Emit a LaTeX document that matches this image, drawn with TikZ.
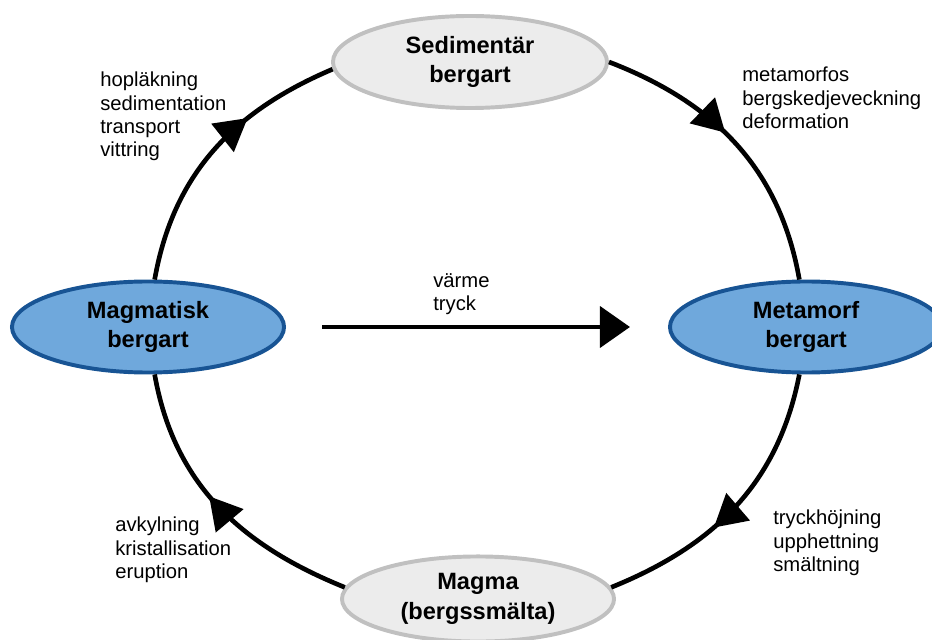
\documentclass[tikz,border=0pt]{standalone}
\usepackage{fontspec}
\setmainfont{Liberation Sans}
\usepackage{xcolor}
\usepackage{tikz}
\usetikzlibrary{shapes, arrows.meta, positioning, decorations.markings}
\definecolor{rockblue}{RGB}{111,168,220}
\definecolor{rockedge}{RGB}{24,84,148}
\definecolor{sedgray}{RGB}{236,236,236}
\definecolor{sededge}{RGB}{192,192,192}

\begin{document}
\begin{tikzpicture}[x=0.025cm, y=0.025cm,
  rock/.style={ellipse, draw=rockedge, fill=rockblue, line width=2.8pt, minimum width=6.8cm, minimum height=2.275cm, align=center, font=\fontsize{16.8}{21}\selectfont\bfseries},
  melt/.style={ellipse, draw=sededge, fill=sedgray, line width=2.8pt, align=center, font=\fontsize{16.8}{21}\selectfont\bfseries},
  proc/.style={anchor=north west, inner sep=0pt, align=left, font=\fontsize{14.4}{16.6}\selectfont},
  loopline/.style={line width=3.3pt},
  midarrow/.style={postaction={decorate}, decoration={markings, mark=at position #1 with {\arrow{Triangle[length=0.8cm, width=0.88cm]}}}}
]
\clip (0,0) rectangle (932,639);

% Rock types
\node[rock] (magm) at (148,312) {Magmatisk\\bergart};
\node[rock] (meta) at (806,312) {Metamorf\\bergart};
\node[melt, minimum width=6.85cm, minimum height=2.3cm] (sed) at (470,577) {Sedimentär\\bergart};
\node[melt, minimum width=6.8cm, minimum height=2.05cm] (magma) at (478,40) {Magma\\(bergssmälta)};

% Cycle
\draw[loopline, midarrow=0.66] (magm.82) to[out=80, in=203] (sed.183);
\draw[loopline, midarrow=0.45] (sed.east) to[out=-21, in=100] (meta.98);
\draw[loopline, midarrow=0.6] (meta.262) to[out=259, in=22] (magma.5);
\draw[loopline, midarrow=0.55] (magma.175) to[out=158, in=280] (magm.278);
\draw[loopline, -{Triangle[length=0.75cm, width=1.02cm]}, shorten <=0.9cm, shorten >=0.95cm] (magm) -- (meta);

% Processes
\node[proc] (weather) at (100,567) {hopläkning\\sedimentation\\transport\\vittring};
\node[proc] (folding) at (742,572) {metamorfos\\bergskedjeveckning\\deformation};
\node[proc] (heat) at (433,366) {värme\\tryck};
\node[proc] (melting) at (773,129) {tryckhöjning\\upphettning\\smältning};
\node[proc] (cooling) at (115,122) {avkylning\\kristallisation\\eruption};

\end{tikzpicture}
\end{document}
